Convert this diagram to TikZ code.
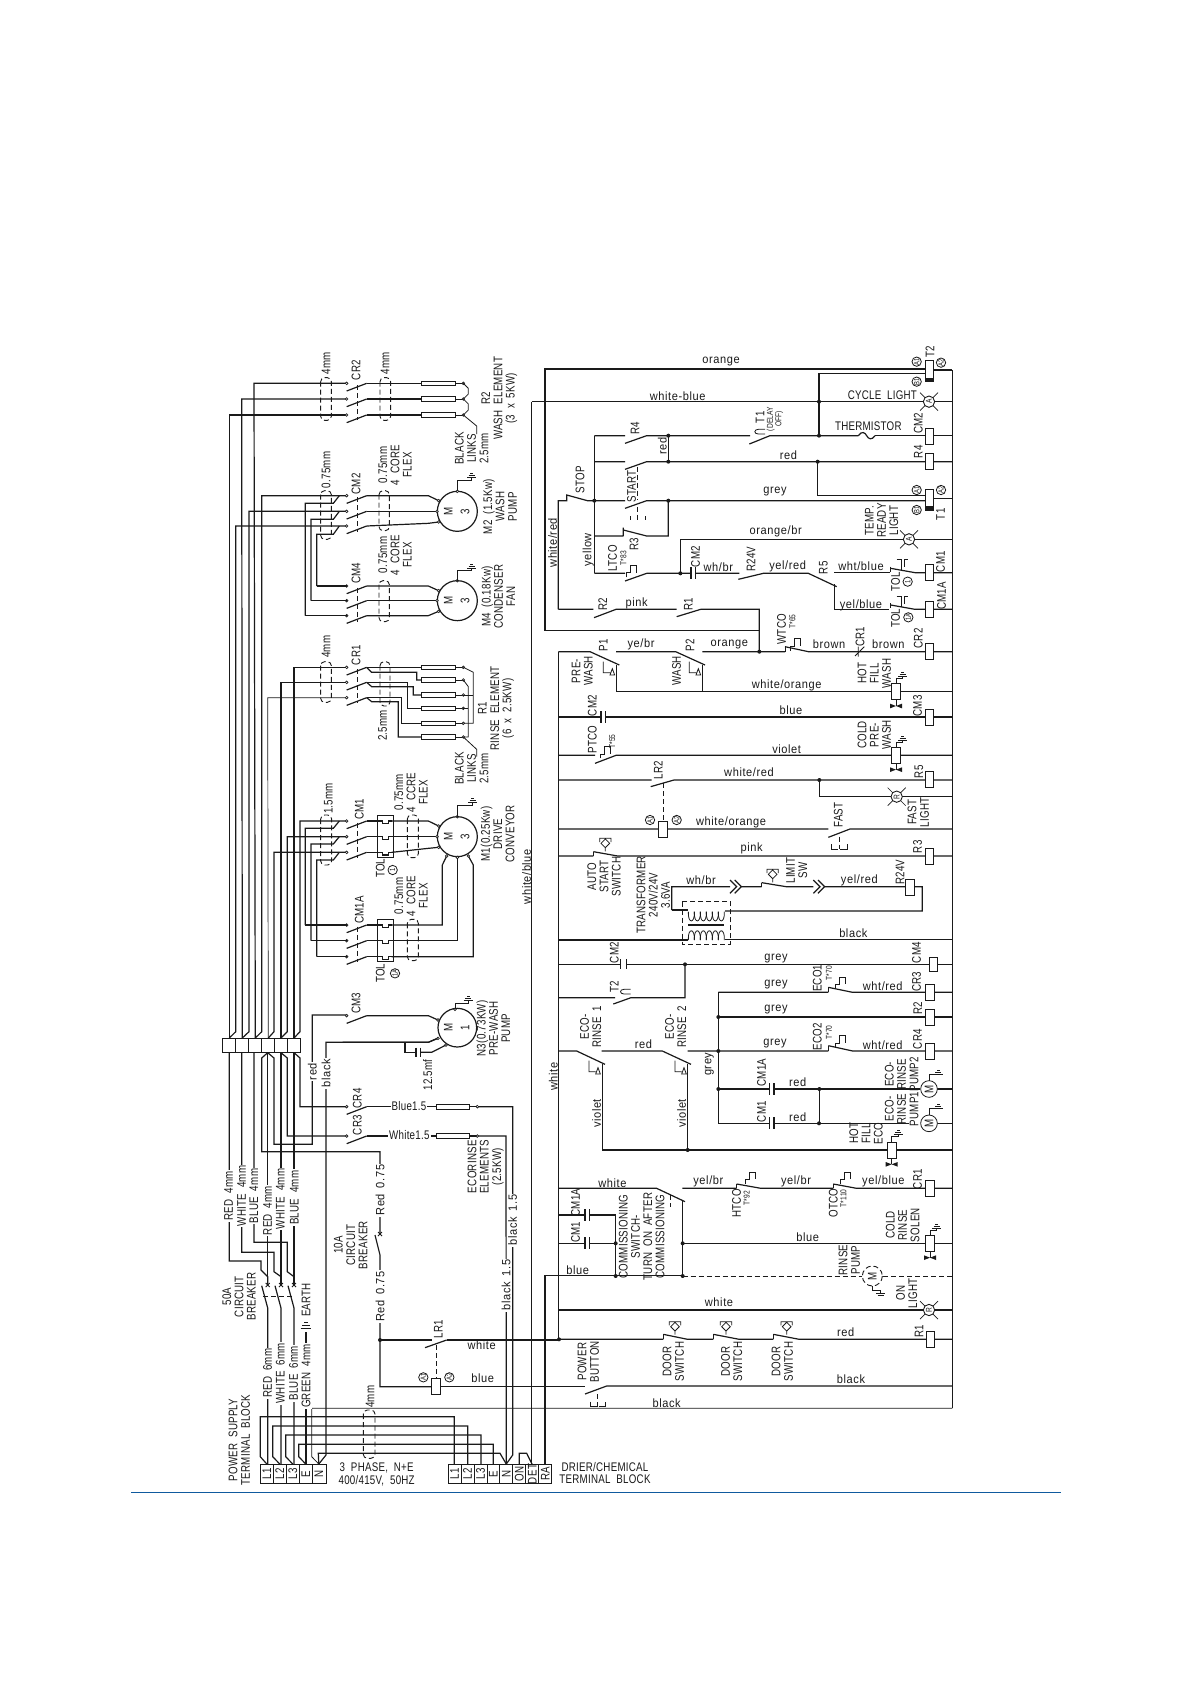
\documentclass[tikz,border=0pt]{standalone}
\usepackage{fontspec}
\setmainfont[FakeStretch=0.78,LetterSpace=2,WordSpace=2]{Liberation Sans}
\newfontfamily\lcf[FakeStretch=0.92,LetterSpace=5,WordSpace=1.6]{Liberation Sans}
\definecolor{ink}{HTML}{1A1A1A}
\definecolor{rulecol}{HTML}{0F5A9E}
\newcounter{nn}
\tikzset{
 lab/.style={inner sep=0pt,align=center,text=ink,font=\fontsize{12.5}{12.3}\selectfont},
 low/.style={inner sep=0pt,align=center,text=ink,font=\lcf\fontsize{12}{12}\selectfont},
 sml/.style={inner sep=0pt,align=center,text=ink,font=\fontsize{8.5}{8.5}\selectfont},
 zA/.style={shift={(200,340)},x=0.33333pt,y=-0.33333pt},
 zB/.style={shift={(200,730)},x=0.33333pt,y=-0.33333pt},
 zC/.style={shift={(200,1120)},x=0.33333pt,y=-0.33333pt},
 zD/.style={shift={(530,340)},x=0.33333pt,y=-0.33333pt},
 zE/.style={shift={(530,630)},x=0.33333pt,y=-0.33333pt},
 zF/.style={shift={(530,930)},x=0.33333pt,y=-0.33333pt},
 zG/.style={shift={(530,1200)},x=0.33333pt,y=-0.33333pt},
 lnk/.style={dash pattern=on 5pt off 3pt,line width=.9pt},
}
\newcommand\LH[3]{\stepcounter{nn}\node[low] (t\thenn) at (#1,#2) {#3};}
\newcommand\LC[3]{\stepcounter{nn}\node[lab] (t\thenn) at (#1,#2) {#3};}
\newcommand\LV[3]{\stepcounter{nn}\node[lab,rotate=90] (t\thenn) at (#1,#2) {#3};}
\newcommand\LL[3]{\stepcounter{nn}\node[low,rotate=90] (t\thenn) at (#1,#2) {#3};}
\newcommand\LW[3]{\stepcounter{nn}\node[lab,rotate=90,fill=white,inner sep=1.2pt] (t\thenn) at (#1,#2) {#3};}
\newcommand\LX[3]{\stepcounter{nn}\node[low,rotate=90,fill=white,inner sep=1.2pt] (t\thenn) at (#1,#2) {#3};}
\newcommand\LY[3]{\stepcounter{nn}\node[lab,fill=white,inner sep=1.2pt] (t\thenn) at (#1,#2) {#3};}
\newcommand\SV[3]{\stepcounter{nn}\node[sml,rotate=90] (t\thenn) at (#1,#2) {#3};}
\newcommand\Dot[2]{\fill[ink] (#1,#2) circle (6);}
\newcommand\Term[2]{\draw[fill=white,line width=.7pt] (#1,#2) circle (4);}
\newcommand\Coil[2]{\draw[fill=white,line width=.8pt] (#1,#2-24) rectangle (#1+26,#2+24);}
\newcommand\TCoil[2]{\draw[fill=white,line width=.8pt] (#1,#2) rectangle (#1+26,#2+63);\fill[ink] (#1,#2+51) rectangle (#1+26,#2+63);}
\newcommand\Cap[2]{\fill[white] (#1,#2-5) rectangle (#1+14,#2+5);\draw (#1,#2-18)--(#1,#2+18) (#1+14,#2-18)--(#1+14,#2+18);}
\newcommand\Lamp[3]{\draw[line width=.7pt] (#1-27,#2-27)--(#1+27,#2+27) (#1-27,#2+27)--(#1+27,#2-27);\draw[fill=white,line width=.9pt] (#1,#2) circle (17);\stepcounter{nn}\node[sml,rotate=90] (t\thenn) at (#1,#2) {#3};}
\newcommand\Earth[2]{\draw[line width=.8pt] (#1-14,#2)--(#1+14,#2) (#1-9,#2-6)--(#1+9,#2-6) (#1-4,#2-12)--(#1+4,#2-12);}
\newcommand\Res[3]{\draw[fill=white,line width=.9pt] (#1,#3-7) rectangle (#2,#3+7);}
\newcommand\Valve[2]{\draw[fill=white,line width=.8pt] (#1,#2-24) rectangle (#1+26,#2+24);\draw[line width=.8pt] (#1+13,#2-24)--(#1+13,#2-40)--(#1+33,#2-40)--(#1+33,#2-46);\Earth{#1+33}{#2-46}\draw[line width=.8pt] (#1+13,#2+24)--(#1+13,#2+43);\fill[ink] (#1-5,#2+36)--(#1+13,#2+43)--(#1-5,#2+50)--cycle (#1+31,#2+36)--(#1+13,#2+43)--(#1+31,#2+50)--cycle;}
\newcommand\Diam[2]{\draw[line width=.8pt] (#1,#2-13)--(#1+13,#2)--(#1,#2+13)--(#1-13,#2)--cycle (#1-17,#2-4)--(#1-17,#2-15)--(#1+17,#2-15)--(#1+17,#2-4) (#1,#2+13)--(#1,#2+24);}
\newcommand\Th[2]{\draw[line width=.8pt] (#1,#2)--(#1,#2-14)--(#1+12,#2-14)--(#1+12,#2-36)--(#1+30,#2-36)--(#1+30,#2-14);}
\newcommand\Press[2]{\draw[line width=.8pt] (#1,#2-33)--(#1,#2)--(#1+20,#2) (#1+20,#2+7)--(#1+34,#2+7)--(#1+27,#2-12)--cycle;}
\newcommand\Btn[2]{\draw[line width=.8pt] (#1-23,#2-15)--(#1-23,#2)--(#1-3,#2) (#1+3,#2)--(#1+23,#2)--(#1+23,#2-15);\draw[lnk] (#1,#2-38)--(#1,#2);}
\newcommand\Chev[2]{\draw (#1,#2-20)--(#1+20,#2)--(#1,#2+20) (#1+14,#2-20)--(#1+34,#2)--(#1+14,#2+20);}
\newcommand\Tim[2]{\draw[line width=.8pt] (#1+34,#2)--(#1+14,#2) .. controls (#1,#2) and (#1,#2+14) .. (#1+14,#2+14)--(#1+34,#2+14);}
\newcommand\CC[3]{\draw[line width=.8pt] (#1,#2) circle (14);\stepcounter{nn}\node[sml,rotate=90,font=\fontsize{7.5}{7.5}\selectfont] (t\thenn) at (#1,#2) {#3};}
\newcommand\Ctc[1]{\draw (440,#1+23)--(500,#1);\Term{440}{#1}}
\newcommand\Loop[4]{\draw[lnk,rounded corners=4pt] (#1,#2) rectangle (#3,#4);}
\newcommand\Motor[5]{\draw[fill=white] (#1,#2) circle (#3);\LV{#1-27}{#2}{#4}\LV{#1+23}{#2}{#5}}
\begin{document}
\begin{tikzpicture}[x=1pt,y=-1pt,line width=1.2pt,color=ink,line join=miter]
\useasboundingbox (0,0) rectangle (1192,1685);
\fill[white] (0,0) rectangle (1192,1685);
\draw[rulecol,line width=1.4pt] (131,1492.3)--(1061,1492.3);
% --- bus above box
\draw (229.3,1038)--(229.3,415)--(346.7,415);
\draw (229.3,1038)--(235.7,1031.7)--(235.7,526)--(346.7,526);
\draw (242.3,1038)--(241.7,399)--(346.7,399);
\draw (242.3,1038)--(249,1031.7)--(249,511.3)--(346.7,511.3);
\draw (255.3,1038)--(254,383.3)--(346.7,383.3);
\draw (255.3,1038)--(261.7,1031.7)--(261.7,495.7)--(346.7,495.7);
\draw[line width=.7pt] (268.3,1038)--(267.7,697.7)--(346.7,697.7);
\draw (268.3,1038)--(274,1031.7)--(274,852.3)--(346.7,852.3);
\draw (281,1038)--(281,682.3)--(346.7,682.3);
\draw (281,1038)--(287.3,1031.7)--(287.3,836.7)--(346.7,836.7);
\draw (294,1038)--(294,667.3)--(346.7,667.3);
\draw (294,1038)--(300,1031.7)--(300,821)--(346.7,821);
\draw[line width=.8pt] (222.7,1038) rectangle (300.3,1052.7);
\foreach \x in {235.7,248.7,261.7,274.7,287.3} {\draw[line width=.8pt] (\x,1038)--(\x,1052.7);}
% --- bus below box
\draw (229.3,1052.7)--(229.3,1261)--(261,1261)--(261,1270)--(267.7,1276.7)--(267.7,1285);
\draw (241.7,1052.7)--(241.7,1252.3)--(274,1252.3)--(274,1271.7)--(281,1276.7)--(281,1285);
\draw (254,1052.7)--(254,1242.3)--(287.3,1242.3)--(287.3,1271.7)--(294,1276.7)--(294,1285);
\draw (267.7,1052.7)--(261.7,1058)--(261.7,1151.7)--(380,1151.7)--(380,1234);
\draw (267.7,1052.7)--(274,1058)--(274,1144.3)--(312.3,1144.3)--(312.3,1015)--(346.7,1015);
\draw (267.7,1052.7)--(267.7,1285);
\draw (281,1052.7)--(287.3,1058)--(287.3,1136)--(346.7,1136);
\draw (281,1052.7)--(281,1285);
\draw (294,1052.7)--(300,1058)--(300,1106.7)--(346.7,1106.7);
\draw (294,1052.7)--(294,1285);
% 50A breaker
\foreach \x in {267.7,281,294} {\draw (\x-6,1285.7)--(\x,1308)--(\x,1464); \draw[line width=.9pt] (\x-2,1283)--(\x+2,1287) (\x-2,1287)--(\x+2,1283);}
\draw[lnk] (263,1296.7)--(293,1296.7);
% earth
\draw (306,1464)--(306,1332);
\draw[line width=.8pt] (300.7,1328.3)--(311.3,1328.3) (302,1325)--(310,1325) (304,1322)--(308,1322);
% 10A breaker
\draw (375,1235)--(380,1255)--(380,1386.7)--(431.7,1386.7);
\draw[line width=.9pt] (378,1232)--(382,1236) (378,1236)--(382,1232);
\fill[ink] (380,1340) circle (2);
\draw (380,1340)--(431.7,1340);
\draw (446.7,1340)--(558.3,1340);
% terminal blocks and cable
\draw (266.8,1464)--(260.3,1456.7)--(260.3,1416.7)--(454.3,1416.7)--(454.3,1464);
\draw (279.8,1464)--(272.7,1456.7)--(272.7,1426)--(467.7,1426)--(467.7,1464);
\draw (292.8,1464)--(285.7,1456.7)--(285.7,1435)--(481,1435)--(481,1464);
\draw (305.8,1464)--(298.7,1456.7)--(298.7,1444.3)--(493.3,1444.3)--(493.3,1464);
\draw (318.8,1464)--(318.3,1453.3)--(500,1453.3)--(506.3,1464);
\draw[line width=.8pt] (318.8,1464)--(311.7,1456.7)--(311.7,1408.3)--(952.3,1408.3);
\draw (318.8,1464)--(326,1455)--(326,1042.3)--(428.3,1042.3)--(438,1038);
\draw (506.3,1464)--(506,1136)--(477.3,1136);
\draw (506.3,1464)--(512.7,1455)--(512.7,1106.7)--(477.3,1106.7);
\draw (519.3,1464)--(519.3,1453.3)--(526.7,1453.3)--(532,1464);
\draw (531.7,1464)--(531.7,401.7);
\draw (545,1464)--(545,1275.7)--(682.7,1275.7);
\draw[line width=.8pt] (260.3,1464.3) rectangle (326,1483.3);
\foreach \x in {273.4,286.5,299.6,312.7} {\draw[line width=.8pt] (\x,1464.3)--(\x,1483.3);}
\draw[line width=.8pt] (448,1464.3) rectangle (551.7,1483.3);
\foreach \x in {461,474,487,499.8,512.8,525.8,538.7} {\draw[line width=.8pt] (\x,1464.3)--(\x,1483.3);}
\foreach \x/\t in {266.8/L1,279.8/L2,292.8/L3,305.8/E,318.8/N,454.5/L1,467.5/L2,480.5/L3,493.4/E,506.3/N,519.3/ON,532.3/DET,545.2/RA} {\stepcounter{nn}\node[lab,rotate=90] (t\thenn) at (\x,1474) {\t};}
\Loop{363.3}{1410}{375}{1458.3}
% --- rails right
\draw (952.3,370)--(952.3,1408.3);
\draw (558.3,651.7)--(558.3,1339.3);
% ===== zA
\begin{scope}[zA]
\foreach \y in {130,177,225} {\Ctc{\y}\draw (500,\y)--(665,\y);\Res{665}{765}{\y}\draw[line width=.8pt] (765,\y)--(790,\y);\Term{790}{\y}}
\draw[line width=.8pt] (790,130)--(805,145)--(805,162)--(790,177)--(805,192)--(805,210)--(790,225)--(830,258)--(830,282);
\draw[lnk] (472,135)--(472,240);
\Loop{362}{113}{394}{241}\Loop{540}{113}{572}{241}
\LV{378}{70}{4mm}\LV{468}{90}{CR2}\LV{555}{70}{4mm}
\LV{815}{325}{BLACK\\LINKS\\2.5mm}
\LV{898}{175}{R2\\WASH ELEMENT\\(3 x 5KW)}
% CM2
\foreach \y in {467,514,558} {\Ctc{\y}}
\draw (500,467)--(685,467)--(716,482);\draw (500,514)--(711,514);\draw (500,558)--(685,550)--(716,546);
\draw[lnk] (472,472)--(472,575);
\Motor{772}{514}{60}{M}{3}
\Term{716}{482}\Term{711}{514}\Term{716}{546}\Term{772}{454}
\draw[line width=.8pt] (772,454)--(772,420)--(815,420)--(815,412);\Earth{815}{412}
\Loop{362}{452}{394}{598}\Loop{537}{452}{568}{572}
\LV{378}{390}{0.75mm}\LV{468}{432}{CM2}\LV{585}{375}{0.75mm\\4 CORE\\FLEX}
\LV{900}{500}{M2 (1.5Kw)\\WASH\\PUMP}
% jumpers
\draw (316,827)--(316,490)--(400,490)--(418,467);
\draw (333,782)--(333,538)--(400,538)--(418,514);
\draw (350,738)--(350,583)--(400,583)--(418,558);
\foreach \y in {738,782,827} {\Ctc{\y}}
\draw (350,738)--(440,738);\draw (333,782)--(440,782);\draw (316,827)--(440,827);
\draw (500,738)--(685,738)--(716,752);\draw (500,782)--(711,782);\draw (500,827)--(685,827)--(716,814);
\draw[lnk] (472,743)--(472,845);
\Motor{772}{782}{60}{M}{3}
\Term{716}{752}\Term{711}{782}\Term{716}{814}\Term{772}{722}
\draw[line width=.8pt] (772,722)--(772,692)--(815,692)--(815,684);\Earth{815}{684}
\Loop{537}{722}{568}{845}
\LV{468}{700}{CM4}\LV{585}{645}{0.75mm\\4 CORE\\FLEX}
\LV{895}{770}{M4 (0.18Kw)\\CONDENSER\\FAN}
% CR1
\foreach \y in {982,1027,1073} {\Ctc{\y}}
\draw[lnk] (472,987)--(472,1090);
\foreach \y in {982,1020,1065,1105,1150,1191} {\Res{665}{765}{\y}\draw[line width=.8pt] (765,\y)--(790,\y);\Term{790}{\y}}
\draw (500,982)--(665,982);
\draw (500,982)--(515,997)--(650,997)--(650,1020)--(665,1020);
\draw (500,1027)--(623,1027)--(623,1105)--(665,1105);
\draw (500,1027)--(515,1040)--(640,1040)--(640,1065)--(665,1065);
\draw (500,1073)--(605,1073)--(605,1150)--(665,1150);
\draw (500,1073)--(515,1085)--(595,1085)--(595,1191)--(665,1191);
\draw[line width=.8pt] (790,982)--(820,997)--(820,1150)--(790,1150);
\draw[line width=.8pt] (790,1020)--(805,1040)--(805,1191)--(790,1191);
\draw[line width=.8pt] (790,1065)--(820,1065) (790,1105)--(805,1105);
\draw[line width=.8pt] (790,1191)--(830,1228)--(830,1250);
\Loop{362}{965}{394}{1087}\Loop{540}{965}{570}{1098}
\LV{378}{920}{4mm}\LV{468}{945}{CR1}\LV{548}{1156}{2.5mm}
\LV{888}{1105}{R1\\RINSE ELEMENT\\(6 x 2.5KW)}
\LV{815}{1285}{BLACK\\LINKS\\2.5mm}
\end{scope}
% ===== zB
\begin{scope}[zB]
\foreach \y in {273,320,367,585,632,680} {\Ctc{\y}}
\draw[lnk] (472,278)--(472,385);\draw[lnk] (472,590)--(472,697);
\foreach \y in {273,320,367,585,632,680} {\draw (500,\y)--(547,\y)--(547,\y+8)--(565,\y+8)--(565,\y)--(575,\y);}
\draw (575,273)--(685,273)--(716,288);\draw (575,320)--(711,320);\draw (575,367)--(685,355)--(716,352);
\draw (316,585)--(316,295)--(400,295)--(418,273);
\draw (333,632)--(333,342)--(400,342)--(418,320);
\draw (350,680)--(350,390)--(400,390)--(418,367);
\draw (316,585)--(440,585);\draw (333,632)--(440,632);\draw (350,680)--(440,680);
\draw (575,585)--(727,585)--(727,405)--(740,378);
\draw (575,632)--(772,632)--(772,382);
\draw (575,680)--(820,680)--(820,405)--(805,378);
\draw[line width=.8pt] (532,257) rectangle (580,383);\draw[line width=.8pt] (532,568) rectangle (580,694);
\Motor{772}{320}{60}{M}{3}
\Term{716}{288}\Term{711}{320}\Term{716}{352}\Term{772}{260}\Term{740}{378}\Term{772}{382}\Term{805}{378}
\draw[line width=.8pt] (772,260)--(772,225)--(818,225)--(818,217);\Earth{818}{217}
\Loop{362}{255}{395}{405}\Loop{622}{255}{655}{383}\Loop{622}{568}{655}{692}
\LV{385}{205}{1.5mm}\LV{478}{238}{CM1}\LV{478}{540}{CM1A}
\LV{633}{187}{0.75mm\\4 CCRE\\FLEX}\LV{633}{498}{0.75mm\\4 CORE\\FLEX}
\LV{541}{415}{TOL}\CC{578}{420}{1}\LV{541}{730}{TOL}\CC{585}{730}{1A}
\LV{893}{312}{M1(0.25Kw)\\DRIVE\\CONVEYOR}
\LL{980}{440}{white/blue}
% M3
\Ctc{857}
\draw (500,857)--(685,857)--(714,870);
\draw (428,937)--(685,937)--(714,925);
\draw (615,937)--(615,967)--(648,967);\draw (662,967)--(695,967)--(738,945);
\draw (648,953)--(648,981) (662,953)--(662,981);
\Motor{772}{893}{58}{M}{1}
\Term{714}{870}\Term{714}{925}\Term{738}{945}\Term{765}{838}
\draw[line width=.8pt] (765,838)--(765,820)--(805,820)--(805,812);\Earth{805}{812}
\LV{468}{820}{CM3}\LV{683}{1035}{12.5mf}\LV{880}{895}{N3(0.73KW)\\PRE-WASH\\PUMP}
% CR4
\Ctc{1130}
\draw (500,1130)--(708,1130);\Res{708}{808}{1130}\draw (808,1130)--(832,1130);\Term{832}{1130}
\LV{472}{1105}{CR4}\LY{627}{1128}{Blue1.5}
\LX{337}{1025}{red}\LX{378}{1030}{black}
\end{scope}
% ===== zC
\begin{scope}[zC]
\Ctc{48}
\draw (500,48)--(708,48);\Res{708}{808}{48}\draw (808,48)--(832,48);\Term{832}{48}
\LV{472}{15}{CR3}\LY{628}{46}{White1.5}
\LV{857}{140}{ECORINSE\\ELEMENTS\\(2.5KW)}
\LX{918}{495}{black 1.5}\LX{938}{300}{black 1.5}
\LX{540}{210}{Red 0.75}\LX{540}{530}{Red 0.75}
\LV{452}{375}{10A\\CIRCUIT\\BREAKER}
\LV{117}{530}{50A\\CIRCUIT\\BREAKER}
\LW{86}{228}{RED 4mm}\LW{125}{228}{WHITE 4mm}\LW{162}{228}{BLUE 4mm}
\LW{203}{272}{RED 4mm}\LW{241}{237}{WHITE 4mm}\LW{283}{233}{BLUE 4mm}
\LV{318}{540}{EARTH}
\LW{203}{760}{RED 6mm}\LW{241}{760}{WHITE 6mm}\LW{281}{760}{BLUE 6mm}\LW{318}{768}{GREEN 4mm}
\LV{118}{960}{POWER SUPPLY\\TERMINAL BLOCK}
\LC{530}{1063}{3 PHASE, N+E\\400/415V, 50HZ}
\LC{1215}{1060}{DRIER/CHEMICAL\\TERMINAL BLOCK}
\LV{510}{830}{4mm}
% LR1
\draw (675,683)--(740,660);\draw[lnk] (708,675)--(708,775);
\draw[fill=white,line width=.8pt] (695,775) rectangle (722,823);
\draw (722,800)--(1155,800);
\CC{670}{772}{A1}\CC{748}{772}{A2}
\LV{715}{628}{LR1}\LH{845}{675}{white}\LH{848}{775}{blue}
\LV{1165}{725}{POWER\\BUTTON}
\end{scope}
% ===== zD
\begin{scope}[zD]
\draw (45,872)--(45,87)--(1185,87);
\TCoil{1185}{62}\draw (1211,90)--(1267,90);
\draw (1185,100)-|(867,287);
\draw (5,185)--(1180,185) (1214,185)--(1267,185);
\Lamp{1197}{185}{A}\Dot{867}{185}
\draw (193,287)--(285,287) (285,310)--(350,287)--(660,287) (658,312)--(720,287)--(985,287);
\draw (985,287) .. controls (995,272) and (1005,277) .. (1010,287) .. controls (1015,297) and (1025,302) .. (1035,287);
\draw (1035,287)--(1185,287) (1211,287)--(1267,287);\Coil{1185}{288}
\Dot{415}{287}\Dot{867}{287}\draw (415,287)--(415,365);
\Tim{671}{268}
\draw (193,365)--(285,365) (285,388)--(350,365)--(1185,365) (1211,365)--(1267,365);\Coil{1185}{365}
\Dot{415}{365}\Dot{863}{365}
\draw (863,365)--(863,467)--(1185,467);\TCoil{1185}{447}\draw (1211,475)--(1267,475);
\draw (85,808)--(85,482)--(110,482)--(110,465)--(172,482)--(285,482) (285,505)--(350,482)--(1185,482);
\Dot{193}{482}\Dot{415}{482}
\draw (415,482)--(415,588)--(350,588)--(280,570) (280,563)--(280,588) (193,588)--(280,588);
\draw (193,287)--(193,700);
\draw[lnk] (322,380)--(322,478);\draw[lnk] (322,500)--(322,540);
\draw[line width=.8pt] (300,528)--(300,540) (345,528)--(345,540);
\draw (451,700)--(451,598)--(1120,598) (1154,598)--(1267,598);\Lamp{1137}{598}{A}
\draw (193,700)--(285,700) (285,723)--(350,700)--(483,700);\Dot{451}{700}\Cap{483}{700}
\draw (497,700)--(628,700) (625,718)--(700,700)--(835,700)--(920,740);
\draw (913,698)--(1080,698) (913,733)--(913,808)--(1078,808);
\Th{290}{712}
\draw[line width=.8pt] (1080,680)--(1080,695) (1080,790)--(1080,805);
\draw (1082,685)--(1155,698)--(1185,698) (1211,698)--(1267,698);\Coil{1185}{698}
\draw (1082,795)--(1155,808)--(1185,808) (1211,808)--(1267,808);\Coil{1185}{808}
\draw[line width=.8pt] (1100,658)--(1115,658)--(1115,690) (1133,658)--(1122,658)--(1122,682);
\draw[line width=.8pt] (1100,768)--(1115,768)--(1115,800) (1133,768)--(1122,768)--(1122,792);
\draw (85,808)--(190,808) (192,833)--(258,808)--(440,808) (440,830)--(512,808)--(688,808)--(688,935);
\draw (45,872)--(688,872);
\CC{1160}{65}{A1}\CC{1233}{68}{A2}\CC{1160}{125}{B1}
\CC{1160}{450}{A1}\CC{1233}{450}{A2}\CC{1160}{510}{B1}
\LV{1200}{35}{T2}\LV{1232}{523}{T1}
\LH{573}{65}{orange}\LH{443}{170}{white-blue}\LC{1057}{167}{CYCLE LIGHT}
\LV{315}{265}{R4}\LL{397}{318}{red}\LV{690}{232}{T1}\SV{735}{237}{(DELAY\\OFF)}
\LC{1015}{260}{THERMISTOR}\LV{1165}{250}{CM2}\LV{1165}{335}{R4}\LH{775}{347}{red}
\LV{150}{420}{STOP}\LV{305}{440}{START}\LH{735}{455}{grey}
\LL{68}{608}{white/red}\LL{175}{630}{yellow}\LV{312}{612}{R3}
\LH{737}{573}{orange/br}\LV{1055}{542}{TEMP.\\READY\\LIGHT}
\LV{248}{655}{LTCO}\SV{280}{655}{T*83}
\LV{497}{650}{CM2}\LH{565}{683}{wh/br}\LV{663}{658}{R24V}\LH{773}{680}{yel/red}
\LV{880}{683}{R5}\LH{993}{680}{wht/blue}\LH{993}{795}{yel/blue}
\LV{1232}{665}{CM1}\LV{1235}{768}{CM1A}
\LV{1097}{725}{TOL}\CC{1133}{725}{1}\LV{1097}{835}{TOL}\CC{1135}{832}{1A}
\LV{218}{792}{R2}\LH{320}{790}{pink}\LV{475}{792}{R1}
\LV{755}{868}{WTCO}\SV{787}{845}{T*65}
\end{scope}
% ===== zE
\begin{scope}[zE]
\draw (85,65)--(180,65)--(268,105) (258,65)--(437,65)--(525,105) (517,65)--(765,65) (765,50)--(835,65)--(1185,65) (1211,65)--(1267,65);
\Dot{688}{65}\draw[line width=.8pt] (765,50)--(765,65);
\Th{782}{62}
\draw[line width=.8pt] (975,78)--(1003,50) (985,50)--(985,80);
\Coil{1185}{65}
\draw (260,105)--(260,185)--(1085,185) (517,105)--(517,185) (1111,185)--(1267,185);
\Press{220}{128}\Press{478}{128}
\Valve{1085}{185}
\draw (85,261)--(1185,261) (1211,261)--(1267,261);\Cap{213}{261}\Coil{1185}{261}
\draw (85,376)--(195,376) (195,400)--(258,376)--(1085,376) (1111,376)--(1267,376);
\draw[line width=.8pt] (210,385)--(210,372)--(222,372)--(222,350)--(240,350)--(240,372);
\Valve{1085}{376}
\draw (85,450)--(365,450) (362,470)--(432,450)--(1185,450) (1211,450)--(1267,450);\Coil{1185}{449}
\Dot{868}{450}\draw (868,450)--(868,500)--(1083,500) (1117,500)--(1267,500);\Lamp{1100}{500}{R}
\draw[lnk] (400,460)--(400,573);
\draw (85,597)--(385,597) (412,597)--(895,597) (895,622)--(960,597)--(1267,597);
\draw[fill=white,line width=.8pt] (385,573) rectangle (412,621);
\Btn{928}{658}
\draw (85,678)--(190,678) (190,665)--(263,678)--(1185,678) (1211,678)--(1267,678);\Coil{1185}{679}
\draw[line width=.8pt] (190,665)--(190,678);\Diam{226}{640}
\draw (425,840)--(425,770)--(600,770) (634,770)--(695,770) (695,758)--(768,770)--(850,770) (884,770)--(1127,770) (1153,770)--(1177,770)--(1177,843)--(585,843);
\draw (425,840)--(475,840);
\draw[line width=.8pt] (695,758)--(695,770);\Diam{728}{733}
\Chev{600}{770}\Chev{850}{770}
\Coil{1127}{771}
\foreach \x in {475,493,511,529,547,565} {\draw[line width=.8pt] (\x,845) .. controls (\x-2,882) and (\x+20,882) .. (\x+18,845);\draw[line width=.8pt] (\x,930) .. controls (\x-2,893) and (\x+20,893) .. (\x+18,930);}
\draw[line width=1.6pt] (475,885)--(583,885);
\draw[lnk] (457,815) rectangle (601,942);
\draw (85,930)--(475,930) (585,928)--(1267,928);
\LV{220}{45}{P1}\LH{333}{43}{ye/br}\LV{480}{45}{P2}\LH{598}{43}{orange}\LH{897}{43}{brown}\LV{990}{20}{CR1}\LH{1075}{43}{brown}\LV{1165}{25}{CR2}
\LV{157}{123}{PRE-\\WASH}\LV{440}{123}{WASH}\LH{770}{165}{white/orange}\LV{1033}{130}{HOT\\FILL\\WASH}
\LV{187}{227}{CM2}\LH{783}{242}{blue}\LV{1163}{228}{CM3}
\LV{187}{328}{PTCO}\SV{247}{335}{T*55}\LH{770}{357}{violet}\LV{1033}{315}{COLD\\PRE-\\WASH}
\LV{385}{420}{LR2}\LH{657}{428}{white/red}\LV{1167}{425}{R5}\LV{1165}{547}{FAST\\LIGHT}
\CC{360}{570}{A1}\CC{440}{570}{A2}\LH{603}{577}{white/orange}\LV{925}{555}{FAST}
\LV{222}{740}{AUTO\\START\\SWITCH}\LH{665}{655}{pink}\LV{1163}{650}{R3}
\LV{370}{795}{TRANSFORMER\\240V/24V\\3.6VA}\LH{513}{752}{wh/br}\LV{800}{722}{LIMIT\\SW}
\LH{988}{750}{yel/red}\LV{1110}{727}{R24V}\LH{970}{910}{black}
\end{scope}
% ===== zF
\begin{scope}[zF]
\draw[line width=.7pt] (85,103)--(272,103) (288,103)--(1197,103) (1221,103)--(1267,103);
\draw[line width=.9pt] (272,88)--(272,118) (288,88)--(288,118);
\draw[fill=white,line width=.8pt] (1197,83) rectangle (1221,124);
\Dot{465}{103}\draw (465,103)--(465,203)--(303,203)--(250,222) (85,203)--(255,203);
\Tim{268}{178}
\draw (565,187)--(895,187) (895,172)--(968,187)--(1187,187) (1213,187)--(1267,187);\draw[line width=.8pt] (895,172)--(895,187);\Coil{1187}{188}
\Th{915}{177}
\draw (565,261)--(1187,261) (1213,261)--(1267,261);\Coil{1187}{261}\Dot{565}{261}
\draw (85,363)--(140,363)--(225,403) (215,363)--(397,363)--(483,403) (473,363)--(895,363) (895,347)--(968,363)--(1187,363) (1213,363)--(1267,363);
\draw[line width=.8pt] (895,347)--(895,363);\Coil{1187}{363}\Dot{565}{363}\Th{915}{353}
\draw (565,187)--(565,580);
\Press{177}{425}\Press{435}{425}
\draw (217,403)--(217,660)--(1072,660) (473,403)--(473,660) (1098,660)--(1267,660);\Dot{473}{660}
\Valve{1072}{660}
\draw (565,477)--(718,477) (735,477)--(1170,477) (1222,477)--(1267,477);\Cap{718}{477}\Dot{565}{477}\Dot{868}{477}
\draw (565,580)--(718,580) (735,580)--(1137,580) (1222,580)--(1267,580);\Cap{718}{580}\Dot{867}{580}
\draw (868,477)--(868,580);
\draw[line width=.8pt,fill=white] (1197,477) circle (25) (1197,580) circle (25);
\LV{1197}{477}{M}\LV{1197}{580}{M}
\draw[line width=.8pt] (1197,452)--(1197,432)--(1225,432);\Earth{1225}{432}
\draw[line width=.8pt] (1197,555)--(1197,535)--(1225,535);\Earth{1225}{535}
\draw (85,775)--(380,775)--(465,815) (457,775)--(620,775) (620,762)--(693,775)--(910,775) (910,762)--(980,775)--(1187,775) (1213,775)--(1267,775);
\draw[line width=.8pt] (620,762)--(620,775) (910,762)--(910,775);\Coil{1187}{775}\Th{645}{762}\Th{932}{762}
\draw (458,812)--(458,1038);
\draw[lnk] (420,795)--(420,832);
\LV{253}{68}{CM2}\LH{738}{85}{grey}\LV{1160}{68}{CM4}\LV{253}{170}{T2}
\LH{738}{165}{grey}\LV{862}{145}{ECO1}\SV{897}{130}{T*70}\LH{1058}{170}{wht/red}\LV{1160}{155}{CR3}
\LH{738}{238}{grey}\LV{1163}{235}{R2}
\LV{182}{290}{ECO-\\RINSE 1}\LV{437}{290}{ECO-\\RINSE 2}\LH{340}{343}{red}\LH{735}{340}{grey}\LV{862}{320}{ECO2}\SV{897}{308}{T*70}\LH{1058}{345}{wht/red}\LV{1163}{327}{CR4}
\LL{538}{403}{grey}\LL{70}{440}{white}
\LV{695}{428}{CM1A}\LH{803}{458}{red}\LV{1115}{433}{ECO-\\RINSE\\PUMP2}
\LV{695}{545}{CM1}\LH{803}{563}{red}\LV{1115}{537}{ECO-\\RINSE\\PUMP1}
\LL{200}{550}{violet}\LL{455}{550}{violet}\LV{1008}{610}{HOT\\FILL\\ECO}
\LH{247}{760}{white}\LH{535}{755}{yel/br}\LH{798}{755}{yel/br}\LH{1060}{755}{yel/blue}\LV{1163}{747}{CR1}
\LV{620}{820}{HTCO}\SV{650}{805}{T*92}\LV{910}{820}{OTCO}\SV{940}{805}{T*110}
\end{scope}
% ===== zG
\begin{scope}[zG]
\draw (85,45)--(165,45) (180,45)--(257,45)--(257,228);\Cap{165}{45}
\draw (85,130)--(165,130) (180,130)--(257,130);\Cap{165}{130}\Dot{257}{130}\Dot{257}{228}
\Dot{458}{130}\Dot{458}{228}
\draw (458,130)--(1187,130) (1213,130)--(1267,130);\Valve{1187}{130}
\draw[lnk] (458,228)--(995,228) (1060,228)--(1267,228);
\draw[lnk,fill=white] (1027,228) circle (30);\LV{1027}{228}{M}
\draw[line width=.8pt] (1027,258)--(1027,272)--(1052,272)--(1052,280);
\draw[line width=.8pt] (1038,280)--(1066,280) (1043,286)--(1061,286);
\draw (85,330)--(1180,330) (1214,330)--(1267,330);\Lamp{1197}{330}{R}
\draw (85,418)--(400,418) (400,403)--(473,418)--(550,418) (550,403)--(628,418)--(730,418) (730,403)--(808,418)--(1188,418) (1214,418)--(1267,418);
\Dot{87}{418}
\draw[line width=.8pt] (400,403)--(400,418) (550,403)--(550,418) (730,403)--(730,418);
\Coil{1188}{418}\Diam{435}{380}\Diam{588}{380}\Diam{770}{380}
\draw (165,582)--(230,558)--(1267,558);
\Btn{203}{620}
\LV{137}{8}{CM1A}\LV{137}{97}{CM1}\LH{143}{210}{blue}
\LV{335}{110}{COMMISSIONING\\SWITCH-\\TURN ON AFTER\\COMMISSIONING}
\LH{833}{113}{blue}\LV{1118}{75}{COLD\\RINSE\\SOLEN}\LV{958}{180}{RINSE\\PUMP}
\LH{567}{308}{white}\LV{1130}{280}{ON\\LIGHT}\LH{947}{397}{red}\LV{1167}{393}{R1}
\LV{430}{485}{DOOR\\SWITCH}\LV{605}{485}{DOOR\\SWITCH}\LV{757}{485}{DOOR\\SWITCH}
\LH{963}{537}{black}\LH{410}{610}{black}
\end{scope}
\end{tikzpicture}
\end{document}
